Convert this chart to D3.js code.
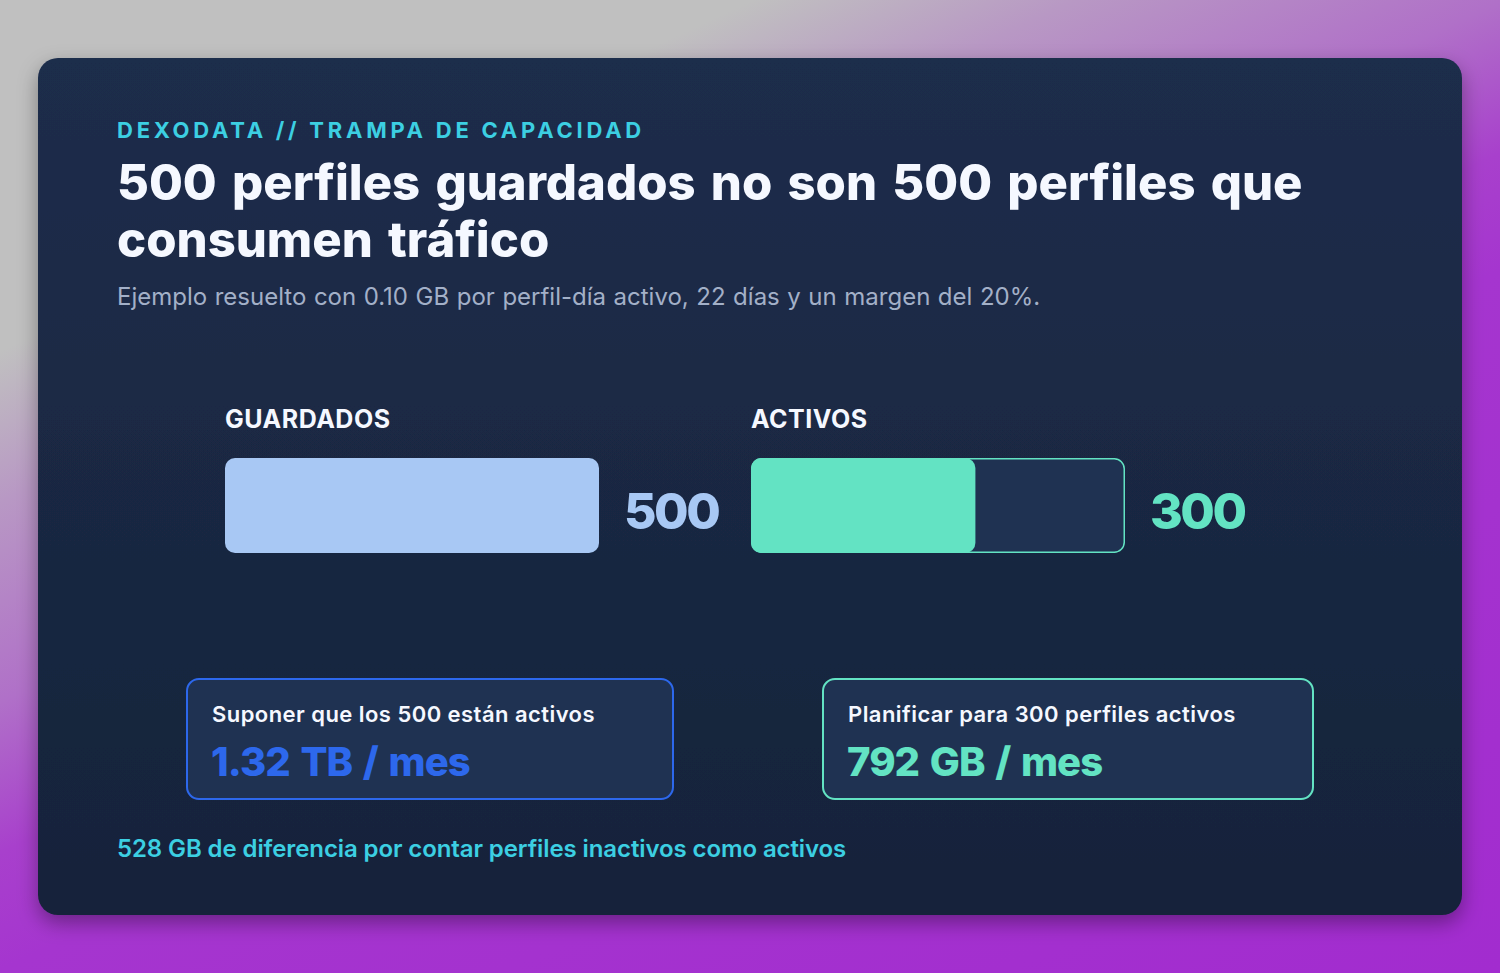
<!DOCTYPE html>
<html><head><meta charset="utf-8">
<script src="https://cdn.jsdelivr.net/npm/d3@7"></script>
<style>
html,body{margin:0;padding:0;width:1500px;height:973px;overflow:hidden;}
body{background:linear-gradient(155deg,#c0c0c0 0%,#c0c0c0 21%,#b898c4 30%,#b070c8 42%,#a840cc 51%,#a535cf 58%,#a22ccf 100%);}
svg{display:block;}
</style></head><body>
<script>
const eyebrow = "DEXODATA // TRAMPA DE CAPACIDAD";
const titleLines = ["500 perfiles guardados no son 500 perfiles que", "consumen tráfico"];
const subtitle = "Ejemplo resuelto con 0.10 GB por perfil-día activo, 22 días y un margen del 20%.";
const categories = ["GUARDADOS", "ACTIVOS"];
const values = [500, 300];
const total = 500;
const scenarioLabels = ["Suponer que los 500 están activos", "Planificar para 300 perfiles activos"];
const scenarioValues = ["1.32 TB / mes", "792 GB / mes"];
const footnote = "528 GB de diferencia por contar perfiles inactivos como activos";

const W = 1500, H = 973;
const svg = d3.select("body").append("svg").attr("width", W).attr("height", H);
const defs = svg.append("defs");
const cg = defs.append("linearGradient").attr("id","cardg").attr("x1",0).attr("y1",0).attr("x2",0).attr("y2",1);
cg.append("stop").attr("offset","0%").attr("stop-color","#1d2d4b");
cg.append("stop").attr("offset","100%").attr("stop-color","#16233a");
const f = defs.append("filter").attr("id","sh").attr("x","-10%").attr("y","-10%").attr("width","120%").attr("height","130%");
f.append("feDropShadow").attr("dx",0).attr("dy",8).attr("stdDeviation",10).attr("flood-color","#000").attr("flood-opacity",0.35);

svg.append("rect").attr("x",38).attr("y",58).attr("width",1424).attr("height",857).attr("rx",20)
  .attr("fill","url(#cardg)").attr("filter","url(#sh)");

const font = "Inter, 'Noto Sans', sans-serif";
svg.append("text").attr("x",117).attr("y",138).text(eyebrow)
  .attr("font-family",font).attr("font-weight",700).attr("font-size",22).attr("letter-spacing",3.75).attr("fill","#3ccfe2");
svg.selectAll("text.title").data(titleLines).join("text").attr("class","title")
  .attr("x",117).attr("y",(d,i)=>200+i*57).text(d=>d)
  .attr("font-family",font).attr("font-weight",800).attr("font-size",49).attr("fill","#f5f8ff")
  .attr("letter-spacing",0).attr("word-spacing",4.5);
svg.append("text").attr("x",117).attr("y",305).text(subtitle)
  .attr("font-family",font).attr("font-size",24).attr("fill","#a3b0c8").attr("letter-spacing",0).attr("word-spacing",0.8);

const barW = 374;
const x = d3.scaleLinear().domain([0,total]).range([0,barW]);
const groupX = d3.scaleOrdinal().domain(categories).range([225, 751]);
const colors = ["#a8c8f4", "#63e3c3"];
const barY = 458, barH = 95;

categories.forEach((c,i)=>{
  const gx = groupX(c);
  const g = svg.append("g").attr("transform",`translate(${gx},0)`);
  g.append("text").attr("x",0).attr("y",428).text(c)
    .attr("font-family",font).attr("font-weight",700).attr("font-size",25).attr("fill","#f5f8ff").attr("letter-spacing",0.5);
  if (i===1) {
    g.append("rect").attr("x",0.75).attr("y",barY+0.75).attr("width",x(total)-1.5).attr("height",barH-1.5).attr("rx",10)
      .attr("fill","#1f3252").attr("stroke",colors[i]).attr("stroke-width",1.5);
  }
  g.append("rect").attr("x",0).attr("y",barY).attr("width",x(values[i])).attr("height",barH).attr("rx",10).attr("fill",colors[i]);
  g.append("text").attr("x",x(total)+25).attr("y",529).text(values[i])
    .attr("font-family",font).attr("font-weight",800).attr("font-size",50).attr("fill",colors[i]).attr("letter-spacing",-2.5);
});

const boxX = [186, 822], boxW = [488, 492];
const boxColors = ["#2d68ec", "#63e3c3"];
scenarioLabels.forEach((lab,i)=>{
  const g = svg.append("g").attr("transform",`translate(${boxX[i]},678)`);
  g.append("rect").attr("x",1).attr("y",1).attr("width",boxW[i]-2).attr("height",120).attr("rx",12)
    .attr("fill","#1f3252").attr("stroke",boxColors[i]).attr("stroke-width",2);
  g.append("text").attr("x",26).attr("y",44).text(lab)
    .attr("font-family",font).attr("font-weight",600).attr("font-size",22).attr("fill","#f5f8ff").attr("letter-spacing",0.45);
  g.append("text").attr("x",25).attr("y",98).text(scenarioValues[i])
    .attr("font-family",font).attr("font-weight",800).attr("font-size",40).attr("fill",boxColors[i])
    .attr("letter-spacing",-1).attr("word-spacing",3);
});

svg.append("text").attr("x",117).attr("y",857).text(footnote)
  .attr("font-family",font).attr("font-weight",600).attr("font-size",24).attr("fill","#3ccfe2").attr("letter-spacing",-0.1);
</script>
</body></html>
